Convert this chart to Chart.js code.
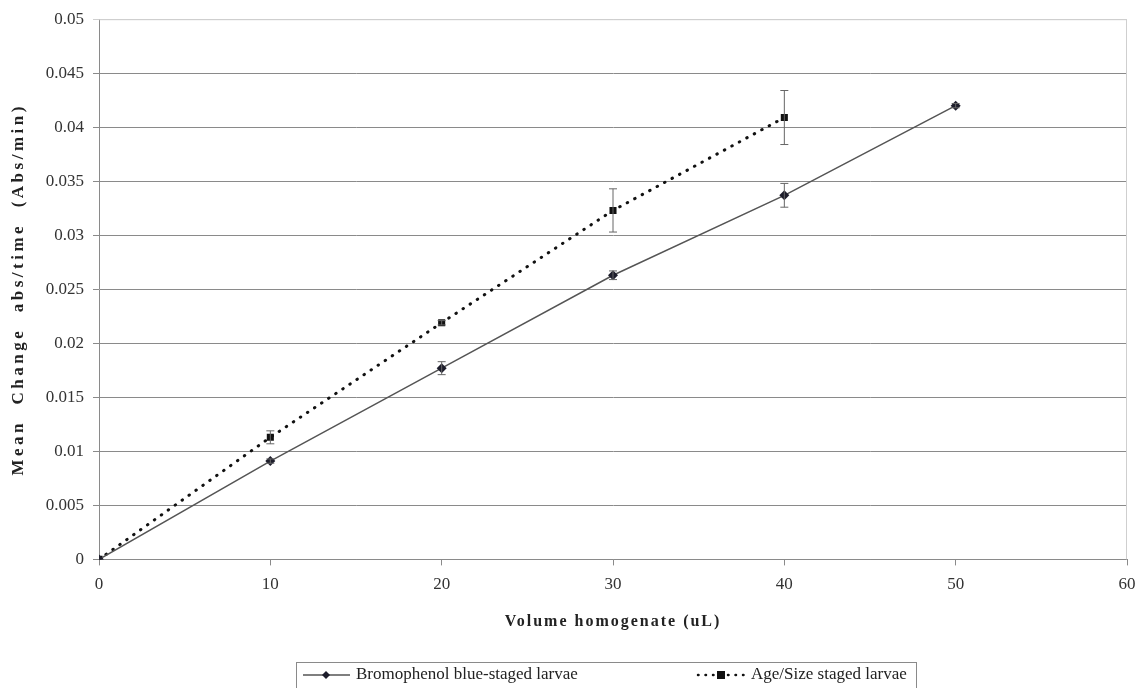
<!DOCTYPE html>
<html>
<head>
<meta charset="utf-8">
<script src="https://cdn.jsdelivr.net/npm/chart.js@4.4.0/dist/chart.umd.min.js"></script>
<style>
html, body { margin: 0; padding: 0; background: #fff; }
#wrap { width: 1146px; height: 688px; }
</style>
</head>
<body>
<div id="wrap"><canvas id="myChart"></canvas></div>
<script>
// DATA
var volumes = [0, 10, 20, 30, 40, 50];
var bromoValues = [0, 0.0091, 0.0177, 0.0263, 0.0337, 0.0420];
var bromoErrors = [0, 0.0002, 0.0006, 0.0004, 0.0011, 0.0002];
var ageValues = [0, 0.0113, 0.0219, 0.0323, 0.0409];
var ageErrors = [0, 0.0006, 0.0002, 0.0020, 0.0025];
var yTickLabels = ['0', '0.005', '0.01', '0.015', '0.02', '0.025', '0.03', '0.035', '0.04', '0.045', '0.05'];
var xTickLabels = ['0', '10', '20', '30', '40', '50', '60'];

function toPoints(values) {
    return values.map(function (v, i) { return { x: volumes[i], y: v }; });
}

var serif = 'Liberation Serif';

// error bars
var errorBars = {
    id: 'errorBars',
    afterDatasetsDraw: function (chart) {
        var ctx = chart.ctx;
        var xs = chart.scales.x, ys = chart.scales.y;
        chart.data.datasets.forEach(function (ds) {
            ctx.save();
            ctx.strokeStyle = '#666';
            ctx.lineWidth = 1;
            ds.points.forEach(function (v, i) {
                var e = ds.errors[i];
                if (!e) return;
                var px = xs.getPixelForValue(volumes[i]);
                var top = ys.getPixelForValue(v + e);
                var bot = ys.getPixelForValue(v - e);
                ctx.beginPath();
                ctx.moveTo(px, top); ctx.lineTo(px, bot);
                ctx.moveTo(px - 4, top); ctx.lineTo(px + 4, top);
                ctx.moveTo(px - 4, bot); ctx.lineTo(px + 4, bot);
                ctx.stroke();
            });
            ctx.restore();
        });
    }
};

// light border right/top of plot
var plotBorder = {
    id: 'plotBorder',
    beforeDatasetsDraw: function (chart) {
        var a = chart.chartArea, ctx = chart.ctx;
        ctx.save();
        ctx.strokeStyle = '#cfcfcf';
        ctx.lineWidth = 1;
        ctx.beginPath();
        ctx.moveTo(a.left, a.top + 0.5);
        ctx.lineTo(a.right - 0.5, a.top + 0.5);
        ctx.lineTo(a.right - 0.5, a.bottom);
        ctx.stroke();
        ctx.restore();
    }
};

// spaced-out axis titles
var spacedTitles = {
    id: 'spacedTitles',
    beforeDraw: function (chart) {
        ['x', 'y'].forEach(function (id) {
            var s = chart.scales[id];
            if (s._spaced) return;
            var orig = s.drawTitle;
            s.drawTitle = function () {
                this.ctx.save();
                this.ctx.letterSpacing = id === 'y' ? '3.5px' : '2px';
                orig.call(this);
                this.ctx.restore();
            };
            s._spaced = true;
        });
    }
};

// legend box at the bottom
var boxLegend = {
    id: 'boxLegend',
    afterDraw: function (chart) {
        var ctx = chart.ctx;
        var ds = chart.data.datasets;
        var y = 675;
        ctx.save();
        ctx.strokeStyle = '#8a8a8a';
        ctx.lineWidth = 1;
        ctx.strokeRect(296.5, 662.5, 620, 40);
        ctx.font = '17px "' + serif + '"';
        ctx.fillStyle = '#222';
        ctx.textBaseline = 'middle';

        // item 1
        ctx.strokeStyle = ds[0].borderColor;
        ctx.lineWidth = ds[0].borderWidth;
        ctx.beginPath(); ctx.moveTo(303, y); ctx.lineTo(350, y); ctx.stroke();
        ctx.fillStyle = ds[0].pointBackgroundColor;
        ctx.beginPath();
        ctx.moveTo(326, y - 4); ctx.lineTo(330, y); ctx.lineTo(326, y + 4); ctx.lineTo(322, y);
        ctx.closePath(); ctx.fill();
        ctx.fillStyle = '#222';
        ctx.fillText(ds[0].label, 356, y);

        // item 2
        ctx.strokeStyle = ds[1].borderColor;
        ctx.lineWidth = 2.5;
        ctx.lineCap = 'round';
        ctx.setLineDash([0.5, 7]);
        ctx.beginPath(); ctx.moveTo(698, y); ctx.lineTo(746, y); ctx.stroke();
        ctx.setLineDash([]);
        ctx.fillStyle = ds[1].pointBackgroundColor;
        ctx.fillRect(717, y - 4, 8, 8);
        ctx.fillStyle = '#222';
        ctx.fillText(ds[1].label, 751, y);
        ctx.restore();
    }
};

var ctx = document.getElementById('myChart');
var myChart = new Chart(ctx, {
    type: 'line',
    data: {
        datasets: [{
            label: 'Bromophenol blue-staged larvae',
            data: toPoints(bromoValues),
            points: bromoValues,
            errors: bromoErrors,
            borderColor: '#555',
            borderWidth: 1.5,
            pointStyle: 'rectRot',
            pointRadius: 5,
            pointBackgroundColor: '#1d1d2b',
            pointBorderColor: '#1d1d2b',
            pointBorderWidth: 0,
            tension: 0
        }, {
            label: 'Age/Size staged larvae',
            data: toPoints(ageValues),
            points: ageValues,
            errors: ageErrors,
            borderColor: '#111',
            borderWidth: 3,
            borderDash: [0.5, 8],
            borderCapStyle: 'round',
            pointStyle: 'rect',
            pointRadius: 5,
            pointBackgroundColor: '#111',
            pointBorderColor: '#111',
            pointBorderWidth: 0,
            tension: 0
        }]
    },
    options: {
        animation: false,
        responsive: true,
        maintainAspectRatio: false,
        layout: { padding: { top: 18, right: 19, bottom: 57, left: 0 } },
        plugins: {
            legend: { display: false },
            tooltip: { enabled: false }
        },
        scales: {
            x: {
                type: 'linear',
                min: 0,
                max: 60,
                ticks: {
                    stepSize: 10,
                    padding: 9,
                    color: '#333',
                    font: { family: serif, size: 17 },
                    callback: function (v, i) { return xTickLabels[i]; }
                },
                grid: { drawOnChartArea: false, drawTicks: true, tickLength: 6, color: '#8a8a8a' },
                border: { color: '#8a8a8a' },
                title: {
                    display: true,
                    text: 'Volume homogenate (uL)',
                    color: '#222',
                    font: { family: serif, size: 16, weight: 'bold' },
                    padding: { top: 8, bottom: 0 }
                }
            },
            y: {
                min: 0,
                max: 0.05,
                afterFit: function (scale) { scale.width = 99; },
                ticks: {
                    stepSize: 0.005,
                    padding: 9,
                    color: '#333',
                    font: { family: serif, size: 17 },
                    callback: function (v, i) { return yTickLabels[i]; }
                },
                grid: {
                    color: function (c) { return c.index === 10 ? '#cfcfcf' : '#8a8a8a'; },
                    tickLength: 6
                },
                border: { color: '#8a8a8a' },
                title: {
                    display: true,
                    text: 'Mean  Change  abs/time  (Abs/min)',
                    color: '#222',
                    font: { family: serif, size: 17, weight: 'bold' },
                    padding: { top: 8, bottom: 0 }
                }
            }
        }
    },
    plugins: [spacedTitles, plotBorder, errorBars, boxLegend]
});
</script>
</body>
</html>
